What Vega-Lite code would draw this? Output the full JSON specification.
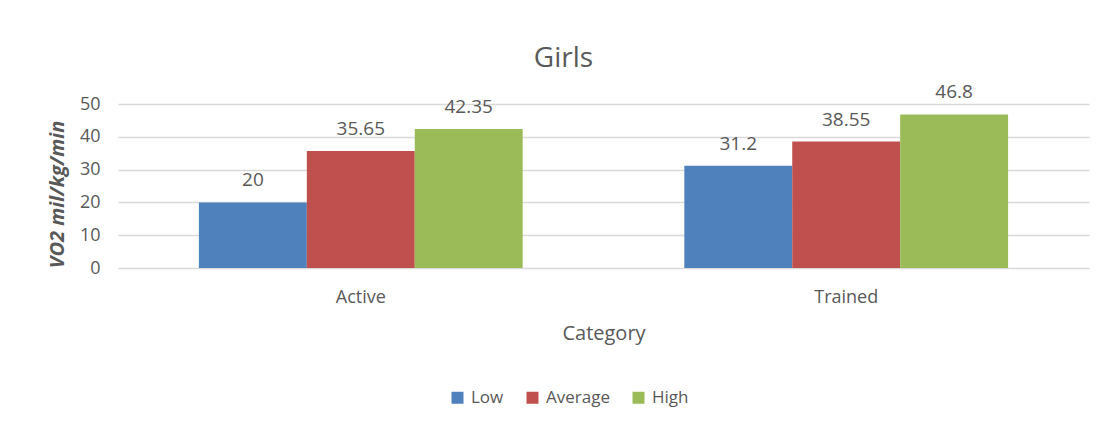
{
  "$schema": "https://vega.github.io/schema/vega-lite/v6.json",
  "width": 971,
  "height": 164,
  "autosize": {"type": "none"},
  "padding": {"left": 118, "top": 104, "right": 13, "bottom": 155},
  "background": "white",
  "title": {
    "text": "Girls",
    "font": "Open Sans",
    "fontSize": 28,
    "fontWeight": "normal",
    "color": "#595959",
    "anchor": "middle",
    "dx": -40,
    "offset": 10
  },
  "data": {
    "values": [
      {"category": "Active", "series": "Low", "value": 20},
      {"category": "Active", "series": "Average", "value": 35.65},
      {"category": "Active", "series": "High", "value": 42.35},
      {"category": "Trained", "series": "Low", "value": 31.2},
      {"category": "Trained", "series": "Average", "value": 38.55},
      {"category": "Trained", "series": "High", "value": 46.8}
    ]
  },
  "encoding": {
    "x": {
      "field": "category",
      "type": "nominal",
      "sort": ["Active", "Trained"],
      "scale": {"paddingInner": 0.333, "paddingOuter": 0.1667},
      "axis": {
        "title": "Category",
        "titleFont": "Open Sans",
        "titleFontSize": 20,
        "titleFontWeight": "normal",
        "titleColor": "#595959",
        "titleBaseline": "alphabetic",
        "titleY": 71,
        "labelFont": "Open Sans",
        "labelFontSize": 18,
        "labelColor": "#595959",
        "labelAngle": 0,
        "labelPadding": 20,
        "domain": false,
        "ticks": false,
        "grid": false
      }
    },
    "xOffset": {
      "field": "series",
      "type": "nominal",
      "sort": ["Low", "Average", "High"],
      "scale": {"paddingInner": 0, "paddingOuter": 0}
    },
    "y": {
      "field": "value",
      "type": "quantitative",
      "scale": {"domain": [0, 50], "nice": false},
      "axis": {
        "title": "VO2 mil/kg/min",
        "titleFont": "Open Sans",
        "titleFontSize": 20,
        "titleFontWeight": "bold",
        "titleFontStyle": "italic",
        "titleColor": "#595959",
        "titleAngle": -90,
        "titleBaseline": "alphabetic",
        "titleX": -55,
        "titleY": 90,
        "values": [0, 10, 20, 30, 40, 50],
        "labelFont": "Open Sans",
        "labelFontSize": 18,
        "labelColor": "#595959",
        "labelPadding": 18,
        "domain": false,
        "ticks": false,
        "grid": true,
        "gridColor": "#D9D9D9",
        "gridWidth": 1.5
      }
    }
  },
  "layer": [
    {
      "mark": {"type": "bar"},
      "encoding": {
        "color": {
          "field": "series",
          "type": "nominal",
          "sort": ["Low", "Average", "High"],
          "scale": {"domain": ["Low", "Average", "High"], "range": ["#4F81BD", "#C0504D", "#9BBB59"]},
          "legend": {
            "title": null,
            "orient": "none",
            "direction": "horizontal",
            "legendX": 331,
            "legendY": 285,
            "padding": 0,
            "symbolType": "square",
            "symbolSize": 144,
            "symbolStrokeWidth": 0,
            "labelFont": "Open Sans",
            "labelFontSize": 17,
            "labelColor": "#595959",
            "labelOffset": 5,
            "columnPadding": 20
          }
        }
      }
    },
    {
      "mark": {
        "type": "text",
        "font": "Open Sans",
        "fontSize": 19,
        "color": "#595959",
        "baseline": "alphabetic",
        "dy": -16
      },
      "encoding": {
        "text": {"field": "value", "type": "quantitative"}
      }
    }
  ],
  "config": {
    "view": {"stroke": null}
  }
}
